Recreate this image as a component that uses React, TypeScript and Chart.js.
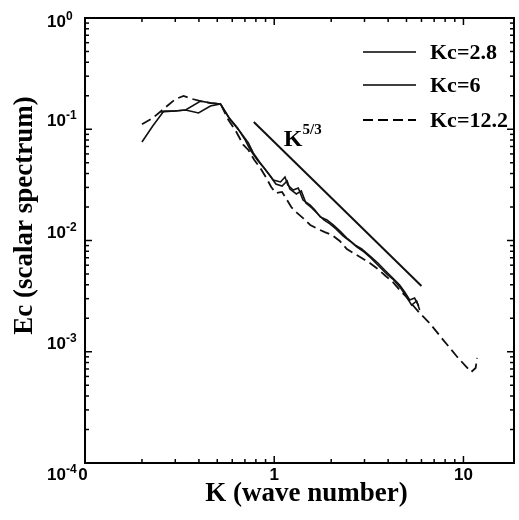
import React, { useEffect, useRef } from "react";
import { Chart, registerables } from "chart.js";

Chart.register(...registerables);

// Scalar spectrum Ec(K) for three cut-off wave numbers
const kc28K = [0.2, 0.228, 0.261, 0.298, 0.34, 0.408, 0.466, 0.52, 0.587, 0.662, 0.73, 0.775, 0.844, 0.919, 0.988, 1.08, 1.14, 1.18, 1.26, 1.34, 1.42, 1.55, 1.64, 1.75, 1.9, 2.05, 2.22, 2.42, 2.67, 2.9, 3.2, 3.53, 3.88, 4.23, 4.6, 4.89, 5.2, 5.52, 5.8];
const kc28E = [0.0768, 0.107, 0.146, 0.146, 0.149, 0.179, 0.172, 0.169, 0.121, 0.0945, 0.0752, 0.0612, 0.0498, 0.0413, 0.035, 0.0336, 0.0372, 0.0315, 0.0284, 0.0296, 0.0231, 0.0208, 0.0188, 0.0163, 0.0153, 0.0138, 0.0122, 0.0105, 0.00912, 0.00839, 0.00726, 0.00628, 0.00532, 0.0046, 0.00398, 0.00344, 0.00292, 0.00304, 0.00258];

const kc6K = [0.251, 0.298, 0.34, 0.398, 0.46, 0.52, 0.573, 0.639, 0.703, 0.748, 0.814, 0.875, 0.953, 1.02, 1.1, 1.17, 1.21, 1.31, 1.39, 1.47, 1.58, 1.7, 1.83, 1.97, 2.12, 2.31, 2.51, 2.73, 2.98, 3.24, 3.57, 3.93, 4.28, 4.66, 5.01, 5.32, 5.66, 5.87];
const kc6E = [0.143, 0.146, 0.149, 0.14, 0.162, 0.169, 0.129, 0.103, 0.08, 0.0651, 0.053, 0.0458, 0.038, 0.0322, 0.0309, 0.0343, 0.029, 0.0262, 0.0279, 0.0217, 0.0196, 0.0173, 0.0153, 0.0141, 0.0127, 0.011, 0.0099, 0.00875, 0.00789, 0.00697, 0.0059, 0.005, 0.00442, 0.00374, 0.0031, 0.00263, 0.00286, 0.00237];

const kc122K = [0.2, 0.228, 0.267, 0.301, 0.332, 0.37, 0.408, 0.46, 0.52, 0.573, 0.631, 0.687, 0.73, 0.785, 0.844, 0.908, 0.964, 1.02, 1.1, 1.16, 1.23, 1.32, 1.42, 1.55, 1.7, 1.85, 2.02, 2.22, 2.42, 2.67, 2.9, 3.2, 3.53, 3.88, 4.23, 4.6, 5.01, 5.39, 5.87, 6.62, 7.75, 9.19, 10.25, 11.0, 11.6, 11.8];
const kc122E = [0.111, 0.126, 0.158, 0.187, 0.199, 0.187, 0.179, 0.172, 0.169, 0.121, 0.0945, 0.0722, 0.0651, 0.053, 0.0449, 0.0365, 0.0303, 0.0267, 0.0273, 0.0236, 0.02, 0.0177, 0.0159, 0.0138, 0.0127, 0.0119, 0.0112, 0.0099, 0.00839, 0.00757, 0.00697, 0.00628, 0.00554, 0.0048, 0.00424, 0.00359, 0.0031, 0.00263, 0.00223, 0.00181, 0.0013, 0.000916, 0.000745, 0.000658, 0.000714, 0.000879];

// K^-5/3 reference slope
const slopeK = [0.78, 6.0];
const slopeE = [0.116, 0.0039];

const seriesLabels = ["Kc=2.8", "Kc=6", "Kc=12.2"];

// Axis ranges and tick labels
const xMin = 0.1;
const xMax = 18.5;
const yMin = 1e-4;
const yMax = 1;
const xLabelValues = [0.1, 1, 10];
const xLabelTexts = ["0", "1", "10"];
const yLabelValues = [1, 0.1, 0.01, 0.001, 0.0001];
const yLabelExps = ["0", "-1", "-2", "-3", "-4"];

const SERIF = '"Liberation Serif", "Times New Roman", serif';
const SANS = '"Liberation Sans", Arial, sans-serif';

const toPoints = (ks: number[], es: number[]) => ks.map((k, i) => ({ x: k, y: es[i] }));

const decorations = {
  id: "decorations",
  afterDatasetsDraw(chart: any) {
    const { ctx, chartArea: a } = chart;
    const x = chart.scales.x;
    const y = chart.scales.y;
    ctx.save();
    ctx.strokeStyle = "#000";
    ctx.fillStyle = "#000";

    // frame
    ctx.lineWidth = 2;
    ctx.strokeRect(a.left, a.top, a.right - a.left, a.bottom - a.top);

    const seg = (x1: number, y1: number, x2: number, y2: number) => {
      ctx.beginPath();
      ctx.moveTo(x1, y1);
      ctx.lineTo(x2, y2);
      ctx.stroke();
    };

    // inward ticks on all four sides
    ctx.lineWidth = 1.5;
    for (let d = xMin; d <= xMax; d *= 10) {
      for (let m = 1; m <= 9; m++) {
        const v = d * m;
        if (v < xMin || v > xMax) continue;
        const px = x.getPixelForValue(v);
        const len = m === 1 ? 7 : 4;
        seg(px, a.bottom, px, a.bottom - len);
        seg(px, a.top, px, a.top + len);
      }
    }
    for (let d = yMin; d <= yMax * 1.0001; d *= 10) {
      for (let m = 1; m <= 9; m++) {
        const v = d * m;
        if (v < yMin || v > yMax * 1.0001) continue;
        const py = y.getPixelForValue(v);
        const len = m === 1 ? 7 : 4;
        seg(a.left, py, a.left + len, py);
        seg(a.right, py, a.right - len, py);
      }
    }

    // y tick labels: 10 with a raised exponent
    ctx.textAlign = "left";
    ctx.textBaseline = "alphabetic";
    yLabelValues.forEach((v, i) => {
      const py = y.getPixelForValue(v);
      const last = yLabelValues.length - 1;
      const base = i === 0 ? py + 9 : i === last ? py + 17 : py - 3;
      ctx.font = `bold 17px ${SANS}`;
      const lx = 47;
      ctx.fillText("10", lx, base);
      const w = ctx.measureText("10").width;
      ctx.font = `bold 12px ${SANS}`;
      ctx.fillText(yLabelExps[i], lx + w, base - 7);
    });

    // x tick labels
    ctx.textAlign = "center";
    ctx.font = `bold 17px ${SANS}`;
    xLabelValues.forEach((v, i) => {
      const px = x.getPixelForValue(v);
      ctx.fillText(xLabelTexts[i], i === 0 ? px - 2 : px, a.bottom + 17);
    });

    // axis titles
    ctx.font = `bold 27px ${SERIF}`;
    ctx.textAlign = "center";
    ctx.fillText("K (wave number)", (a.left + a.right) / 2 + 7, a.bottom + 38);
    ctx.save();
    ctx.translate(32, (a.top + a.bottom) / 2 - 25);
    ctx.rotate(-Math.PI / 2);
    ctx.fillText("Ec (scalar spectrum)", 0, 0);
    ctx.restore();

    // slope annotation
    const sx = x.getPixelForValue(slopeK[0]);
    const sy = y.getPixelForValue(slopeE[0]);
    ctx.textAlign = "left";
    ctx.font = `bold 24px ${SERIF}`;
    ctx.fillText("K", sx + 30, sy + 24);
    const kw = ctx.measureText("K").width;
    ctx.font = `bold 15px ${SERIF}`;
    ctx.fillText("5/3", sx + 30 + kw, sy + 12);

    // legend
    const rows = [52, 85, 120];
    chart.data.datasets.slice(0, 3).forEach((ds: any, i: number) => {
      ctx.lineWidth = ds.borderWidth;
      ctx.setLineDash(ds.borderDash || []);
      seg(363, rows[i], 416, rows[i]);
      ctx.setLineDash([]);
      ctx.font = `bold 22px ${SERIF}`;
      ctx.textBaseline = "middle";
      ctx.fillText(ds.label, 430, rows[i] + 1);
    });
    ctx.restore();
  },
};

export default function App() {
  const ref = useRef<HTMLCanvasElement>(null);
  useEffect(() => {
    if (!ref.current) return;
    const line = (label: string, data: any[], dash: number[], width: number) => ({
      label,
      data,
      borderColor: "#111",
      borderWidth: width,
      borderDash: dash,
      pointRadius: 0,
      tension: 0,
      fill: false,
    });
    const chart = new Chart(ref.current, {
      type: "line",
      data: {
        datasets: [
          line(seriesLabels[0], toPoints(kc28K, kc28E), [], 1.6),
          line(seriesLabels[1], toPoints(kc6K, kc6E), [], 1.6),
          line(seriesLabels[2], toPoints(kc122K, kc122E), [10, 5], 1.8),
          line("K^-5/3", toPoints(slopeK, slopeE), [], 2),
        ],
      },
      options: {
        animation: false,
        responsive: false,
        devicePixelRatio: 1,
        layout: { padding: { left: 85, top: 18, right: 5, bottom: 57 } },
        plugins: { legend: { display: false }, tooltip: { enabled: false } },
        scales: {
          x: {
            type: "logarithmic",
            min: xMin,
            max: xMax,
            bounds: "data",
            ticks: { display: false },
            grid: { display: false, drawTicks: false },
            border: { display: false },
            title: { display: false },
          },
          y: {
            type: "logarithmic",
            min: yMin,
            max: yMax,
            bounds: "data",
            ticks: { display: false },
            grid: { display: false, drawTicks: false },
            border: { display: false },
            title: { display: false },
          },
        },
      },
      plugins: [decorations],
    });
    return () => chart.destroy();
  }, []);
  return (
    <div style={{ position: "fixed", left: 0, top: 0, width: 519, height: 520, background: "#fff" }}>
      <canvas ref={ref} width={519} height={520} />
    </div>
  );
}
